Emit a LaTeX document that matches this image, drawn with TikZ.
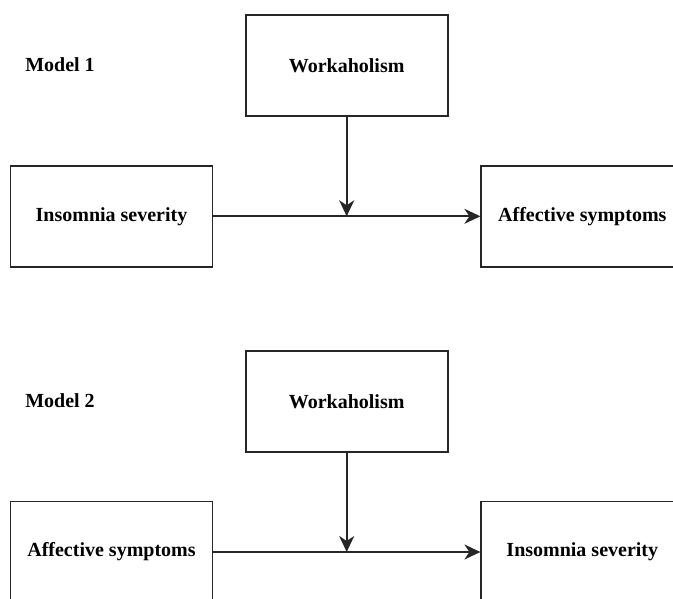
\documentclass[tikz,border=0pt]{standalone}
\usepackage{fontspec}
\setmainfont{Liberation Serif}
\usetikzlibrary{arrows.meta, positioning}

\begin{document}
\begin{tikzpicture}[
    x=1pt, y=-1pt,
    >={Stealth[length=16pt, width=15pt, inset=5pt]},
    var/.style={
        rectangle, draw=black!85, line width=1.8pt,
        minimum width=202pt, minimum height=101pt, align=center,
        font=\fontsize{20}{24}\selectfont\bfseries, inner sep=0pt
    },
    modellabel/.style={font=\fontsize{20}{24}\selectfont\bfseries},
    arrow/.style={->, line width=1.8pt, black!85},
]
\useasboundingbox (0,0) rectangle (673,598);
\clip (0,0) rectangle (673,598);

% Model 1
\node[modellabel] (m1) at (60,65) {Model 1};
\node[var] (work1) at (346.7,65.3) {Workaholism};
\node[var] (ins1) at (111.5,216.3) {Insomnia severity};
\node[var] (aff1) at (582.3,216.3) {Affective symptoms};
\coordinate (mid1) at (work1.south |- ins1.east);
\draw[arrow] (ins1) -- (aff1);
\draw[arrow] (work1) -- (mid1);

% Model 2
\node[modellabel] (m2) at (60,401) {Model 2};
\node[var] (work2) at (346.7,401.3) {Workaholism};
\node[var] (aff2) at (111.5,552) {Affective symptoms};
\node[var] (ins2) at (582.3,552) {Insomnia severity};
\coordinate (mid2) at (work2.south |- aff2.east);
\draw[arrow] (aff2) -- (ins2);
\draw[arrow] (work2) -- (mid2);

\end{tikzpicture}
\end{document}
